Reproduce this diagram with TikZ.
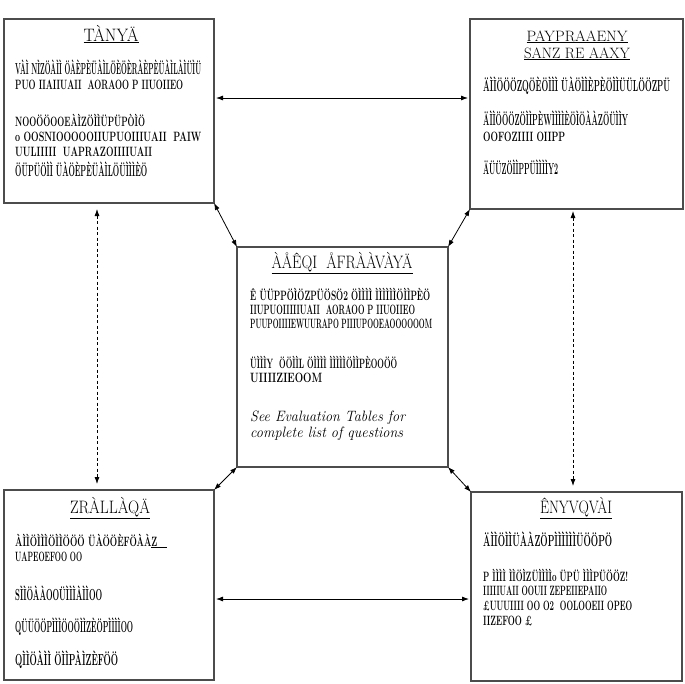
\documentclass[tikz,border=0pt]{standalone}
\usepackage{graphicx}
\usetikzlibrary{arrows.meta}
\newcommand\glin[2]{\resizebox{#1pt}{\height}{#2}}
\tikzset{
  box/.style={draw=black!70, line width=1.3pt, anchor=north west, inner sep=0pt, outer sep=0pt},
  txt/.style={anchor=base west, inner sep=0pt, font=\fontsize{16}{18}\selectfont\bfseries},
  txs/.style={anchor=base west, inner sep=0pt, font=\fontsize{13.5}{15}\selectfont\bfseries},
  ttl/.style={anchor=base, inner sep=0pt, font=\fontsize{18}{20}\selectfont},
  tts/.style={anchor=base, inner sep=0pt, font=\fontsize{15}{16}\selectfont},
  itx/.style={anchor=base west, inner sep=0pt, font=\fontsize{15}{17}\selectfont\itshape},
  arr/.style={{Latex[length=7pt,width=5pt]}-{Latex[length=7pt,width=5pt]}, line width=0.8pt, draw=black},
  darr/.style={arr, dash pattern=on 3pt off 2.5pt}
}
\begin{document}
\begin{tikzpicture}[x=1pt,y=-1pt]
\fill[white] (0,0) rectangle (685,683);
\useasboundingbox (0,0) rectangle (685,683);

% boxes
\node[box, minimum width=210pt, minimum height=184pt] (tl) at (4,19) {};
\node[box, minimum width=213pt, minimum height=190pt] (tr) at (470,19) {};
\node[box, minimum width=211pt, minimum height=220pt] (c) at (237,247) {};
\node[box, minimum width=210pt, minimum height=190pt] (bl) at (4,490) {};
\node[box, minimum width=211pt, minimum height=189pt] (br) at (471,492) {};

% top-left texts
\node[ttl] (tlt) at (111,41) {\glin{55}{\underline{TÀNYÄ}}};
\node[txt] (a1) at (15,74) {\glin{186}{VÀÌ NÌZÖÀÌÌ ÖÀÈPÈÜÀÌLÖÈÖÈRÀÈPÈÜÀÌLÀÌÜÌÜ}};
\node[txs] (a2) at (15,89) {\glin{168}{PUO IIAIIUAII\ \ AORAOO P IIUOIIEO}};
\node[txs] (a3) at (15,126) {\glin{130}{NOOÖÖOOEÀÌZÖÌÌÜPÜPÒÌÖ}};
\node[txs] (a4) at (15,141) {\glin{186}{o OOSNIOOOOOIIUPUOIIIUAII\ \ PAIW}};
\node[txs] (a5) at (15,156) {\glin{137}{UULIIIII\ \ UAPRAZOIIIIUAII}};
\node[txt] (a6) at (15,176) {\glin{132}{ÖÜPÜÖÌÌ ÜÀÖÈPÈÜÀÌLÖÜÌÌÌÈÖ}};

% top-right texts
\node[tts] (trt1) at (577,41) {\glin{101}{\underline{PAYPRAAENY}}};
\node[tts] (trt2) at (577,58) {\glin{106}{\underline{SANZ RE AAXY}}};
\node[txt] (b1) at (483,91) {\glin{187}{ÄÌÌÖÖÖZQÖÈÖÌÌÌ ÜÀÖÌÌÈPÈÖÌÌÜÜLÖÖZPÜ}};
\node[txt] (b2) at (483,125) {\glin{145}{ÄÌÌÖÖÖZÖÌÌPÈWÌÌÌÌÈÖÌÖÀÀZÖÜÌÌY}};
\node[txs] (b3) at (483,141) {\glin{82}{OOFOZIIII OIIPP}};
\node[txt] (b4) at (483,174) {\glin{75}{ÄÜÜZÖÌÌPPÜÌÌÌÌY2}};

% centre texts
\node[ttl] (ct) at (342,268) {\glin{141}{\underline{ÀÅÊQI\ \ ÅFRÀÀVÀYÄ}}};
\node[txs] (c1) at (250,300) {\glin{180}{Ê ÜÜPPÖÌÖZPÜÖSÖ2 ÖÌÌÌÌ ÌÌÌÌÌÌÖÌÌPÈÖ}};
\node[txs] (c2) at (250,314) {\glin{165}{IIUPUOIIIIIUAII\ \ AORAOO P IIUOIIEO}};
\node[txs] (c3) at (250,328) {\glin{182}{PUUPOIIIIEWUURAPO PIIIUPOOEAOOOOOOM}};
\node[txs] (c4) at (250,368) {\glin{147}{ÜÌÌÌY\ \ ÖÖÌÌL ÖÌÌÌÌ ÌÌÌÌÌÖÌÌPÈOOÖÖ}};
\node[txs] (c5) at (250,382) {\glin{72}{UIIIIZIEOOM}};
\node[itx] (i1) at (250,421) {\glin{155}{See Evaluation Tables for}};
\node[itx] (i2) at (250,437) {\glin{153}{complete list of questions}};

% bottom-left texts
\node[ttl] (blt) at (110,513) {\glin{80}{\underline{ZRÀLLÀQÄ}}};
\node[txs] (d1) at (15,546) {\glin{152}{ÀÌÌÖÌÌÌÖÌÌÖÖÖ ÜÀÖÖÈFÖÀÀ\underline{Z\ \ \ }}};
\node[txs] (d2) at (15,561) {\glin{67}{UAPEOEFOO OO}};
\node[txt] (d3) at (15,600) {\glin{87}{SÌÌÖÀÀOOÜÌÌÌÀÌÌOO}};
\node[txt] (d4) at (15,632) {\glin{118}{QÜÜÖÖPÌÌÌÖOÖÌÌZÈÖPÌÌÌÌOO}};
\node[txt] (d5) at (15,665) {\glin{103}{QÌÌÖÀÌÌ ÖÌÌPÀÌZÈFÖÖ}};

% bottom-right texts
\node[ttl] (brt) at (576,513) {\glin{72}{\underline{ÊNYVQVÀI}}};
\node[txt] (e1) at (483,546) {\glin{129}{ÄÌÌÖÌÌÜÀÀZÖPÌÌÌÌÌÌÜÖÖPÖ}};
\node[txs] (e2) at (483,581) {\glin{145}{P ÌÌÌÌ ÌÌÖÌZÜÌÌÌÌo ÜPÜ ÌÌÌPÜÖÖZ!}};
\node[txs] (e3) at (483,595) {\glin{124}{IIIIIUAII OOUII ZEPEIIEPAIIO}};
\node[txs] (e4) at (483,610) {\glin{149}{£UUUIIII OO O2\ \ OOLOOEII OPEO}};
\node[txs] (e5) at (483,625) {\glin{49}{IIZEFOO £}};

% connectors
\coordinate (ha) at (0,98);
\coordinate (hb) at (0,599);
\coordinate (va) at (97,0);
\coordinate (vb) at (573,0);
\draw[arr, shorten <=2pt, shorten >=2pt] (tl.east |- ha) -- (tr.west |- ha);
\draw[arr, shorten <=2pt, shorten >=2pt] (bl.east |- hb) -- (br.west |- hb);
\draw[darr, shorten <=6pt, shorten >=6pt] (tl.south -| va) -- (bl.north -| va);
\draw[darr, shorten <=2pt, shorten >=6pt] (tr.south -| vb) -- (br.north -| vb);
\draw[arr] (tl.south east) -- (c.north west);
\draw[arr] (tr.south west) -- (c.north east);
\draw[arr] (bl.north east) -- (c.south west);
\draw[arr] (br.north west) -- (c.south east);
\end{tikzpicture}
\end{document}
